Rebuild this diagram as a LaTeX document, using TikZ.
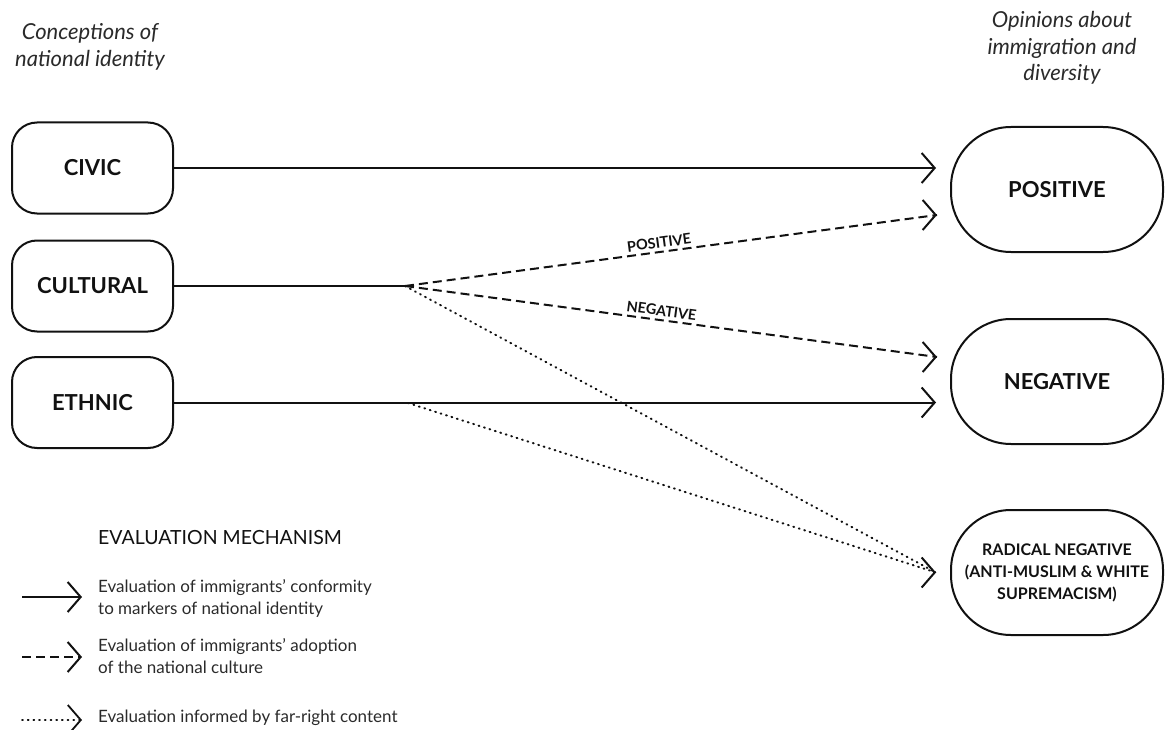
\documentclass[tikz,border=0pt]{standalone}
\usepackage{fontspec}
\setmainfont{Lato}
\usetikzlibrary{arrows.meta,calc}
\definecolor{ink}{HTML}{111111}
\definecolor{txt}{HTML}{2A2A2A}
\begin{document}
\begin{tikzpicture}[x=1pt,y=-1pt,
  lbox/.style={draw=ink,line width=2pt,rounded corners=25pt,minimum width=161pt,minimum height=91pt,font=\fontsize{22}{26}\selectfont\bfseries,text=ink},
  rbox/.style={draw=ink,line width=2pt,rounded corners=60pt,minimum width=212pt,minimum height=125pt,font=\fontsize{22}{26}\selectfont\bfseries,align=center,text=ink},
  conn/.style={line width=2pt,draw=ink},
  tip/.style={-{Straight Barb[length=13pt,width=30pt]}},
  dashline/.style={conn,dash pattern=on 9pt off 5pt},
  dotline/.style={draw=ink,line width=2pt,line cap=round,dash pattern=on 0.9pt off 4.8pt},
  head/.style={font=\fontsize{22}{26.5}\selectfont\itshape,text=txt,align=center},
  elabel/.style={font=\fontsize{14.5}{16}\selectfont\bfseries,text=ink,sloped,above,inner sep=3pt},
  legtext/.style={font=\fontsize{17}{21.5}\selectfont,text=txt,align=left,anchor=west,inner sep=0pt},
]
\useasboundingbox (0,0) rectangle (1166,730);

\node[head] (h1) at (90,47) {Conceptions of\\national identity};
\node[head] (h2) at (1062,48) {Opinions about\\immigration and\\diversity};

\node[lbox] (civic) at (92.5,168) {CIVIC};
\node[lbox] (cult) at (92.5,286) {CULTURAL};
\node[lbox] (eth) at (92.5,402.5) {ETHNIC};

\node[rbox] (pos) at (1057,189.5) {POSITIVE};
\node[rbox] (neg) at (1057,381.5) {NEGATIVE};
\node[rbox,font=\fontsize{16}{22}\selectfont\bfseries] (rad) at (1057,572.5) {RADICAL NEGATIVE\\(ANTI-MUSLIM \& WHITE\\SUPREMACISM)};

\coordinate (cj) at (405,286);
\coordinate (ej) at (408,403);
\coordinate (ptip) at (937,215);
\coordinate (ntip) at (937,357);
\coordinate (rtip) at ([xshift=-14pt]rad.west);

\draw[conn,tip,shorten >=14pt] (civic.east) -- (civic.east -| pos.west);
\draw[conn] (cult.east) -- (cj);
\draw[dashline] (cj) -- node[elabel,pos=0.48]{POSITIVE} (ptip);
\draw[dashline] (cj) -- node[elabel,pos=0.48]{NEGATIVE} (ntip);
\draw[conn,tip] ([xshift=-1pt]ptip) -- (ptip);
\draw[conn,tip] ([xshift=-1pt]ntip) -- (ntip);
\draw[conn,tip,shorten >=14pt] (eth.east) -- (eth.east -| neg.west);
\draw[dotline] (cj) -- (rtip);
\draw[dotline] (ej) -- (rtip);
\draw[conn,tip] ([xshift=-1pt]rtip) -- (rtip);

\node[font=\fontsize{19.5}{23}\selectfont,text=ink,anchor=west,inner sep=0pt] (legt) at (98,538) {EVALUATION MECHANISM};
\coordinate (l1a) at (22,597); \coordinate (l1b) at (82,597);
\coordinate (l2a) at (22,657); \coordinate (l2b) at (82,657);
\coordinate (l3a) at (22,720); \coordinate (l3b) at (82,720);
\draw[conn,tip] (l1a) -- (l1b);
\draw[dashline,tip] (l2a) -- (l2b);
\draw[dotline,line width=1.8pt,tip] (l3a) -- (l3b);
\node[legtext] (l1) at (98,598.5) {Evaluation of immigrants’ conformity\\to markers of national identity};
\node[legtext] (l2) at (98,656) {Evaluation of immigrants’ adoption\\of the national culture};
\node[legtext] (l3) at (98,718) {Evaluation informed by far-right content};
\end{tikzpicture}
\end{document}
